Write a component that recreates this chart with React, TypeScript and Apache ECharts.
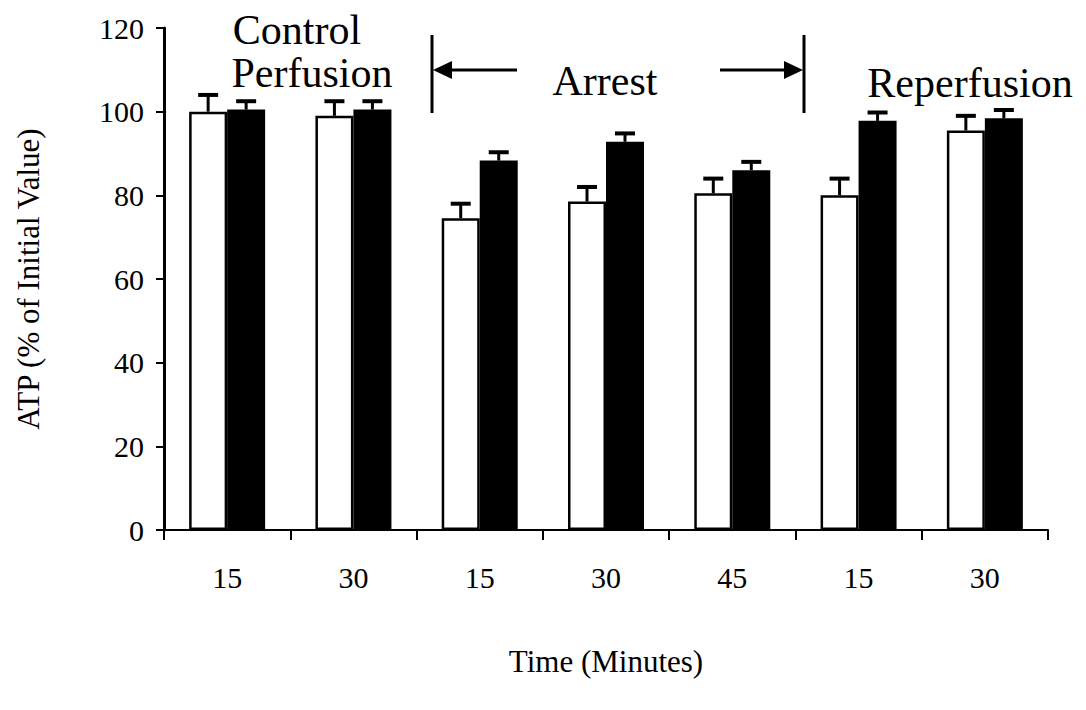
import React, { useEffect, useRef } from "react";
import * as echarts from "echarts";

const categories = ["15", "30", "15", "30", "45", "15", "30"];
const openValues = [100, 99, 74.5, 78.5, 80.5, 80, 95.5];
const openErrors = [4, 3.5, 3.5, 3.5, 3.5, 4, 3.5];
const filledValues = [100.5, 100.5, 88.3, 92.8, 86, 97.8, 98.4];
const filledErrors = [2, 2, 2, 2, 2, 2, 2];
const yTicks = { min: 0, max: 120, interval: 20 };

const FONT = "Liberation Serif, Times New Roman, serif";
const BAR_W = 38;

function errorSeries(values: number[], errors: number[], offset: number) {
  return {
    type: "custom",
    z: 5,
    data: values.map((v, i) => [i, v, errors[i]]),
    encode: { x: 0, y: 1 },
    renderItem: (params: any, api: any) => {
      const i = api.value(0);
      const v = api.value(1);
      const e = api.value(2);
      const base = api.coord([i, v]);
      const top = api.coord([i, v + e]);
      const x = base[0] + offset;
      return {
        type: "group",
        children: [
          {
            type: "line",
            shape: { x1: x, y1: base[1], x2: x, y2: top[1] },
            style: { stroke: "#000", lineWidth: 3 },
          },
          {
            type: "line",
            shape: { x1: x - 10, y1: top[1], x2: x + 10, y2: top[1] },
            style: { stroke: "#000", lineWidth: 4 },
          },
        ],
      };
    },
  };
}

export default function App() {
  const ref = useRef<HTMLDivElement>(null);
  useEffect(() => {
    if (!ref.current) return;
    const chart = echarts.init(ref.current, undefined, { renderer: "svg" });
    const annStyle = {
      fill: "#000",
      fontFamily: FONT,
      fontSize: 42,
      textAlign: "center",
      textVerticalAlign: "middle",
    };
    chart.setOption({
      animation: false,
      backgroundColor: "#fff",
      textStyle: { fontFamily: FONT },
      grid: { left: 164, right: 38, top: 28, bottom: 180, containLabel: false },
      xAxis: {
        type: "category",
        data: categories,
        boundaryGap: true,
        name: "Time (Minutes)",
        nameLocation: "middle",
        nameGap: 116,
        nameTextStyle: { fontFamily: FONT, fontSize: 31, color: "#000" },
        axisLine: { lineStyle: { color: "#000", width: 2 } },
        axisTick: { show: true, length: 10, inside: false, lineStyle: { color: "#000", width: 2 } },
        axisLabel: { fontFamily: FONT, fontSize: 30, color: "#000", margin: 32 },
        splitLine: { show: false },
      },
      yAxis: {
        type: "value",
        min: yTicks.min,
        max: yTicks.max,
        interval: yTicks.interval,
        name: "ATP (% of Initial Value)",
        nameLocation: "middle",
        nameGap: 120,
        nameRotate: 90,
        nameTextStyle: { fontFamily: FONT, fontSize: 31, color: "#000" },
        axisLine: { show: true, lineStyle: { color: "#000", width: 3 } },
        axisTick: { show: true, length: 8, lineStyle: { color: "#000", width: 2 } },
        axisLabel: { fontFamily: FONT, fontSize: 30, color: "#000", margin: 20 },
        splitLine: { show: false },
      },
      series: [
        {
          type: "bar",
          data: openValues,
          barWidth: BAR_W,
          barGap: "0%",
          itemStyle: { color: "#fff", borderColor: "#000", borderWidth: 2.5 },
        },
        {
          type: "bar",
          data: filledValues,
          barWidth: BAR_W,
          barGap: "0%",
          itemStyle: { color: "#000", borderColor: "#000", borderWidth: 0 },
        },
        errorSeries(openValues, openErrors, -BAR_W / 2),
        errorSeries(filledValues, filledErrors, BAR_W / 2),
      ],
      graphic: [
        { type: "text", x: 297, y: 30, style: { ...annStyle, text: "Control" } },
        { type: "text", x: 312, y: 73, style: { ...annStyle, text: "Perfusion" } },
        { type: "text", x: 605, y: 81, style: { ...annStyle, text: "Arrest" } },
        { type: "text", x: 970, y: 83, style: { ...annStyle, text: "Reperfusion" } },
        { type: "line", shape: { x1: 432, y1: 35, x2: 432, y2: 113 }, style: { stroke: "#000", lineWidth: 3 } },
        { type: "line", shape: { x1: 804, y1: 35, x2: 804, y2: 113 }, style: { stroke: "#000", lineWidth: 3 } },
        { type: "line", shape: { x1: 445, y1: 70, x2: 517, y2: 70 }, style: { stroke: "#000", lineWidth: 3 } },
        { type: "polygon", shape: { points: [[433, 70], [452, 61], [452, 79]] }, style: { fill: "#000" } },
        { type: "line", shape: { x1: 720, y1: 70, x2: 792, y2: 70 }, style: { stroke: "#000", lineWidth: 3 } },
        { type: "polygon", shape: { points: [[803, 70], [784, 61], [784, 79]] }, style: { fill: "#000" } },
      ],
    });
    return () => chart.dispose();
  }, []);
  return <div ref={ref} style={{ width: 1086, height: 710, position: "absolute", left: 0, top: 0 }} />;
}
